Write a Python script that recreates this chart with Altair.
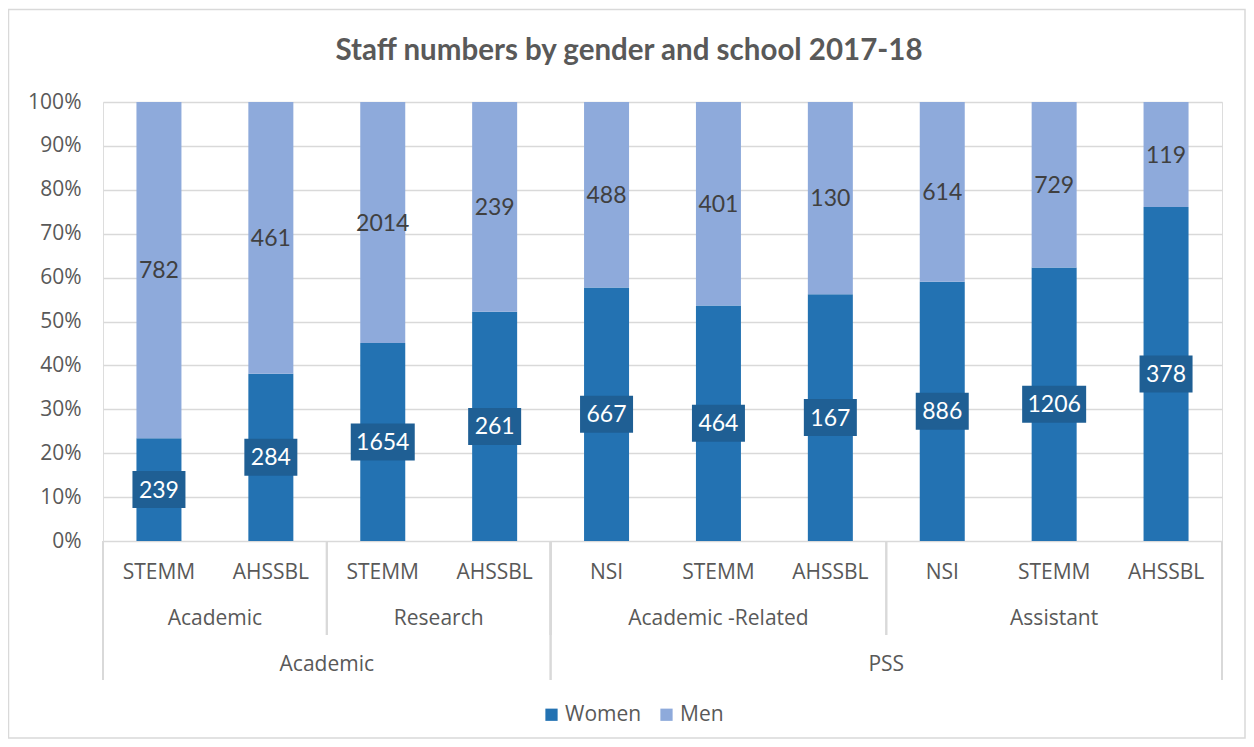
import altair as alt
import pandas as pd

# ---- data ----
title_text = "Staff numbers by gender and school  2017-18"
schools = ["STEMM", "AHSSBL", "STEMM", "AHSSBL", "NSI", "STEMM", "AHSSBL", "NSI", "STEMM", "AHSSBL"]
groups = ["Academic", "Academic", "Research", "Research",
          "Academic -Related", "Academic -Related", "Academic -Related",
          "Assistant", "Assistant", "Assistant"]
supers = ["Academic", "Academic", "Academic", "Academic", "PSS", "PSS", "PSS", "PSS", "PSS", "PSS"]
women = [239, 284, 1654, 261, 667, 464, 167, 886, 1206, 378]
men = [782, 461, 2014, 239, 488, 401, 130, 614, 729, 119]
genders = ["Women", "Men"]
colors = ["#2372b2", "#8eaadb"]

rows = []
for i in range(len(schools)):
    for g, vals in zip(genders, [women, men]):
        rows.append({"i": i, "school": schools[i], "group": groups[i], "super": supers[i],
                     "gender": g, "gorder": genders.index(g), "count": vals[i]})
df = pd.DataFrame(rows)
cats = pd.DataFrame({"i": list(range(len(schools))), "school": schools, "group": groups, "super": supers})

W, H = 1119, 439
GRID = "#d9d9d9"
TXT = "#595959"
FS = 21

xscale = alt.Scale(domain=[-0.5, len(schools) - 0.5], nice=False, zero=False, padding=0)
yscale = alt.Scale(domain=[0, 1], nice=False)

base = alt.Chart(df).transform_stack(
    stack="count", groupby=["i"], as_=["y0", "y1"], offset="normalize",
    sort=[alt.SortField("gorder", order="ascending")]
).transform_calculate(mid="(datum.y0 + datum.y1) / 2",
                      nd="length(toString(datum.count))")

bars = base.mark_bar(size=45).encode(
    x=alt.X("i:Q", scale=xscale, axis=None),
    y=alt.Y("y0:Q", scale=yscale,
            axis=alt.Axis(format="%", values=[k / 10 for k in range(11)], title=None,
                          domain=False, ticks=False, labelPadding=22,
                          labelFontSize=FS, labelFont="Open Sans", labelColor=TXT,
                          grid=True, gridColor=GRID, gridWidth=1.5)),
    y2="y1:Q",
    color=alt.Color("gender:N", scale=alt.Scale(domain=genders, range=colors),
                    sort=genders,
                    legend=alt.Legend(title=None, orient="none", legendX=438, legendY=602,
                                      direction="horizontal", symbolType="square",
                                      symbolSize=150, symbolStrokeWidth=0,
                                      labelFontSize=FS, labelFont="Open Sans",
                                      labelColor=TXT, columnPadding=14, labelOffset=3)),
)

box3 = base.transform_filter("datum.gender == 'Women' && datum.nd <= 3").mark_rect(
    color="#1f5f94", xOffset=-26.5, x2Offset=26.5, yOffset=18.5, y2Offset=-18.5
).encode(x=alt.X("i:Q", scale=xscale), x2="i:Q", y=alt.Y("mid:Q", scale=yscale), y2="mid:Q")

box4 = base.transform_filter("datum.gender == 'Women' && datum.nd >= 4").mark_rect(
    color="#1f5f94", xOffset=-32, x2Offset=32, yOffset=18.5, y2Offset=-18.5
).encode(x=alt.X("i:Q", scale=xscale), x2="i:Q", y=alt.Y("mid:Q", scale=yscale), y2="mid:Q")

lab_w = base.transform_filter("datum.gender == 'Women'").mark_text(
    font="Lato", fontSize=23, color="white", baseline="middle", dy=1
).encode(x=alt.X("i:Q", scale=xscale), y=alt.Y("mid:Q", scale=yscale), text="count:Q")

lab_m = base.transform_filter("datum.gender == 'Men'").mark_text(
    font="Lato", fontSize=23, color="#404040", baseline="middle", dy=1
).encode(x=alt.X("i:Q", scale=xscale), y=alt.Y("mid:Q", scale=yscale), text="count:Q")

# ---- hierarchical category axis ----
cat_base = alt.Chart(cats)

school_lab = cat_base.mark_text(font="Open Sans", fontSize=FS, color=TXT, baseline="middle").encode(
    x=alt.X("i:Q", scale=xscale), y=alt.value(H + 32), text="school:N")

group_lab = cat_base.transform_aggregate(
    c="mean(i)", groupby=["super", "group"]
).mark_text(font="Open Sans", fontSize=FS, color=TXT, baseline="middle").encode(
    x=alt.X("c:Q", scale=xscale), y=alt.value(H + 78), text="group:N")

super_lab = cat_base.transform_aggregate(
    c="mean(i)", groupby=["super"]
).mark_text(font="Open Sans", fontSize=FS, color=TXT, baseline="middle").encode(
    x=alt.X("c:Q", scale=xscale), y=alt.value(H + 124), text="super:N")

group_sep = cat_base.transform_aggregate(
    lo="min(i)", hi="max(i)", groupby=["super", "group"]
).transform_calculate(lo="datum.lo - 0.5", hi="datum.hi + 0.5").transform_fold(
    ["lo", "hi"], as_=["k", "b"]
).mark_rule(color=GRID, strokeWidth=2).encode(
    x=alt.X("b:Q", scale=xscale), y=alt.value(H), y2=alt.value(H + 94))

super_sep = cat_base.transform_aggregate(
    lo="min(i)", hi="max(i)", groupby=["super"]
).transform_calculate(lo="datum.lo - 0.5", hi="datum.hi + 0.5").transform_fold(
    ["lo", "hi"], as_=["k", "b"]
).mark_rule(color=GRID, strokeWidth=2).encode(
    x=alt.X("b:Q", scale=xscale), y=alt.value(H), y2=alt.value(H + 139))

one = alt.Chart(alt.Data(values=[{"a": 1}]))
frame = one.mark_rect(fillOpacity=0, stroke=GRID, strokeWidth=1.5).encode(
    x=alt.value(-94.5), x2=alt.value(1142), y=alt.value(-92.5), y2=alt.value(636))

title = one.mark_text(text=title_text, font="Lato", fontSize=29.5, fontWeight="bold",
                      color=TXT, baseline="alphabetic").encode(
    x=alt.value(526), y=alt.value(-42))

chart = alt.layer(
    frame, bars, box3, box4, lab_w, lab_m,
    group_sep, super_sep, school_lab, group_lab, super_lab, title
).properties(
    width=W, height=H,
    padding={"left": 95, "top": 94, "right": 24, "bottom": 198},
    autosize=alt.AutoSizeParams(type="none"),
).configure_view(stroke=None).configure(background="white")

chart.save("out.html", embed_options={"renderer": "svg", "actions": False})
